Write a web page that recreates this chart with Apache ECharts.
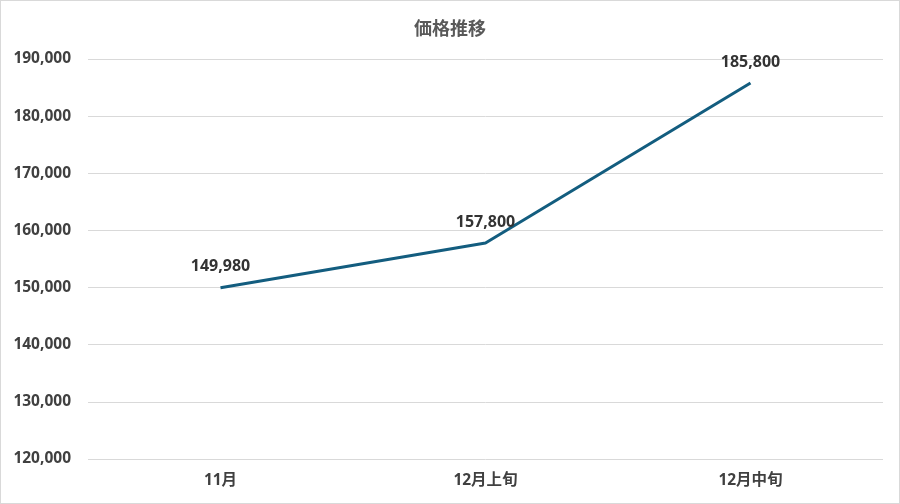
<!DOCTYPE html>
<html><head><meta charset="utf-8">
<script src="https://cdn.jsdelivr.net/npm/echarts@6/dist/echarts.min.js"></script>
<style>html,body{margin:0;padding:0;background:#fff}#c{width:900px;height:504px;box-sizing:border-box;border:1px solid #d9d9d9}</style>
</head><body><div id="c"></div>
<script>
const categories = ['11月', '12月上旬', '12月中旬'];
const prices = [149980, 157800, 185800];
const yTicks = [120000, 130000, 140000, 150000, 160000, 170000, 180000, 190000];
const titleText = '価格推移';

const font = '"Noto Sans", "Noto Sans CJK JP", sans-serif';
const chart = echarts.init(document.getElementById('c'));
chart.setOption({
  animation: false,
  title: { text: titleText, left: 'center', top: 15,
    textStyle: { fontFamily: font, fontSize: 18, fontWeight: 'bold', color: '#595959' } },
  grid: { left: 87, right: 16, top: 58, bottom: 44 },
  xAxis: { type: 'category', data: categories, boundaryGap: true,
    axisLine: { show: false }, axisTick: { show: false },
    axisLabel: { fontFamily: font, fontSize: 15.5, fontWeight: 'bold', color: '#404040', margin: 14 } },
  yAxis: { type: 'value', min: yTicks[0], max: yTicks[yTicks.length - 1], interval: 10000,
    axisLine: { show: false }, axisTick: { show: false },
    splitLine: { lineStyle: { color: '#d9d9d9', width: 1 } },
    axisLabel: { fontFamily: font, fontSize: 15.5, fontWeight: 'bold', color: '#404040', margin: 17,
      formatter: v => v.toLocaleString('en-US') } },
  series: [{
    type: 'line', data: prices, symbol: 'circle', symbolSize: 0.1,
    lineStyle: { color: '#135d7f', width: 3 },
    itemStyle: { color: '#135d7f' },
    label: { show: true, position: 'top', distance: 13, fontFamily: font, fontSize: 16, fontWeight: 'bold', color: '#333333',
      formatter: p => p.value.toLocaleString('en-US') }
  }]
});
</script></body></html>
